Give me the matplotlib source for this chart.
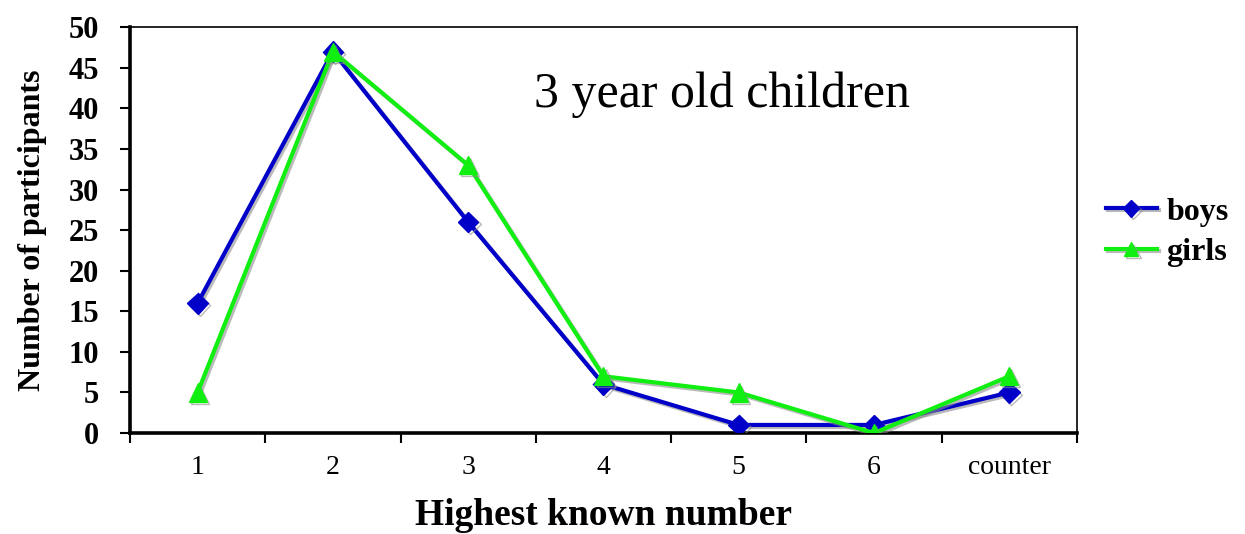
import matplotlib
matplotlib.use("Agg")
import matplotlib.pyplot as plt
import matplotlib.patheffects as pe
import numpy as np

# Data
categories = ["1", "2", "3", "4", "5", "6", "counter"]
boys = [16, 47, 26, 6, 1, 1, 5]
girls = [5, 47, 33, 7, 5, 0, 7]

plt.rcParams['font.family'] = ['Liberation Serif', 'DejaVu Serif']

fig = plt.figure(figsize=(12.45, 5.34), dpi=100)
ax = fig.add_axes([0.1044, 0.189, 0.7606, 0.760])

x = np.arange(len(categories))
shadow = [pe.SimpleLineShadow(offset=(1.5, -1.5), shadow_color='0.55', alpha=0.6), pe.Normal()]

ax.plot(x, boys, color='#0000c8', lw=3.0, marker='D', ms=10.5, label='boys',
        path_effects=shadow, zorder=3)
ax.plot(x, girls, color='#11ee11', lw=3.0, marker='^', ms=13, label='girls',
        path_effects=shadow, zorder=4)

ax.set_xlim(-0.5, len(categories) - 0.5)
ax.set_ylim(0, 50)
ax.set_yticks(np.arange(0, 51, 5))
ax.set_yticklabels([str(v) for v in range(0, 51, 5)], fontsize=22, fontweight='bold')
ax.set_xticks(x)
ax.set_xticklabels(categories, fontsize=20)
ax.set_xticks(np.arange(-0.5, len(categories), 1), minor=True)
ax.tick_params(axis='x', which='major', length=0, pad=16)
ax.tick_params(axis='x', which='minor', length=7, width=1.5, direction='out')
ax.tick_params(axis='y', length=7, width=1.5, direction='out', pad=15)

for s in ['left', 'bottom']:
    ax.spines[s].set_linewidth(2.6)
for s in ['top', 'right']:
    ax.spines[s].set_linewidth(1.2)

ax.set_xlabel('Highest known number', fontsize=27, fontweight='bold', labelpad=13)
ax.set_ylabel('Number of participants', fontsize=23, fontweight='bold', labelpad=16)

ax.text(0.427, 0.803, '3 year old children', transform=ax.transAxes, fontsize=36,
        ha='left', va='baseline')

leg = ax.legend(loc='center left', bbox_to_anchor=(1.0, 0.495), frameon=False,
                prop={'size': 23, 'weight': 'bold'}, handlelength=1.6,
                handletextpad=0.3, labelspacing=0.35, markerscale=0.8)

fig.savefig('out.png', dpi=100)
